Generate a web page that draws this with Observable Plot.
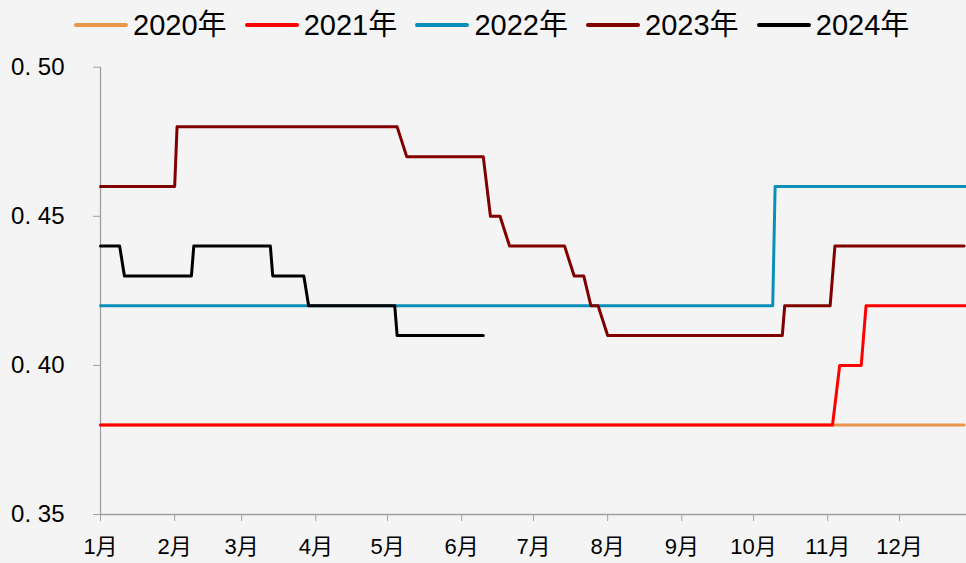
<!DOCTYPE html>
<html>
<head>
<meta charset="utf-8">
<script src="https://cdn.jsdelivr.net/npm/d3@7"></script>
<script src="https://cdn.jsdelivr.net/npm/@observablehq/plot@0.6"></script>
<style>
  html, body { margin: 0; padding: 0; background: #F4F4F4; }
  body { width: 966px; height: 563px; overflow: hidden; font-family: "Liberation Sans", Arial, "Noto Sans CJK SC", sans-serif; }
  #legend { position: relative; height: 50px; }
  .item { position: absolute; top: 0; height: 50px; display: flex; align-items: center; }
  .sw { width: 54px; height: 4px; border-radius: 2px; margin-right: 5px; }
  .lab { font-size: 29px; color: #000; line-height: 1; }
  svg { display: block; background: #F4F4F4; }
</style>
</head>
<body>
<div id="legend"></div>
<div id="chart"></div>
<script>
// ---- data (overlay on a reference calendar year) ----
const seriesNames = ["2020年", "2021年", "2022年", "2023年", "2024年"];
const seriesColors = ["#EA964A", "#FF0000", "#0A90B8", "#800000", "#000000"];

const dates2020 = ["01-01", "12-28"];
const vals2020  = [0.38, 0.38];

const dates2021 = ["01-01", "11-03", "11-06", "11-15", "11-17", "12-29"];
const vals2021  = [0.38, 0.38, 0.40, 0.40, 0.42, 0.42];

const dates2022 = ["01-01", "10-09", "10-10", "12-29"];
const vals2022  = [0.42, 0.42, 0.46, 0.46];

const dates2023 = ["01-01", "02-01", "02-02", "05-05", "05-09", "06-10", "06-13", "06-17", "06-21",
                   "07-14", "07-18", "07-22", "07-25", "07-28", "08-01", "10-13", "10-14", "11-02", "11-04", "12-28"];
const vals2023  = [0.46, 0.46, 0.48, 0.48, 0.47, 0.47, 0.45, 0.45, 0.44,
                   0.44, 0.43, 0.43, 0.42, 0.42, 0.41, 0.41, 0.42, 0.42, 0.44, 0.44];

const dates2024 = ["01-01", "01-09", "01-11", "02-08", "02-09", "03-13", "03-14", "03-27", "03-29", "05-04", "05-05", "06-10"];
const vals2024  = [0.44, 0.44, 0.43, 0.43, 0.44, 0.44, 0.43, 0.43, 0.42, 0.42, 0.41, 0.41];

const monthTicks  = ["01-01","02-01","03-01","04-01","05-01","06-01","07-01","08-01","09-01","10-01","11-01","12-01"];
const monthLabels = ["1月","2月","3月","4月","5月","6月","7月","8月","9月","10月","11月","12月"];
const yTicks = [0.35, 0.40, 0.45, 0.50];
const xStart = "01-01", xEnd = "12-29";

// ---- build ----
const ref = s => new Date(`2023-${s}T00:00:00Z`);
const allDates = [dates2020, dates2021, dates2022, dates2023, dates2024];
const allVals = [vals2020, vals2021, vals2022, vals2023, vals2024];
const rows = [];
seriesNames.forEach((name, i) => {
  allDates[i].forEach((d, j) => rows.push({series: name, date: ref(d), value: allVals[i][j]}));
});
const tickDates = monthTicks.map(ref);
const labelOf = new Map(tickDates.map((d, i) => [+d, monthLabels[i]]));

// legend
const legend = document.getElementById("legend");
seriesNames.forEach((name, i) => {
  const it = document.createElement("div");
  it.className = "item";
  it.style.left = (74 + i * 170.7) + "px";
  it.innerHTML = `<div class="sw" style="background:${seriesColors[i]}"></div><div class="lab">${name}</div>`;
  legend.appendChild(it);
});

const axisColor = "#A0A0A0";
const chart = Plot.plot({
  width: 966,
  height: 513,
  marginLeft: 100,
  marginRight: 0,
  marginTop: 16.7,
  marginBottom: 49,
  style: {background: "#F4F4F4", fontFamily: "'Liberation Sans', Arial, 'Noto Sans CJK SC', sans-serif", color: "#000"},
  x: {type: "utc", domain: [ref(xStart), ref(xEnd)]},
  y: {domain: [0.35, 0.50]},
  color: {domain: seriesNames, range: seriesColors},
  marks: [
    Plot.ruleX([ref(xStart)], {stroke: axisColor, strokeWidth: 1.3}),
    Plot.ruleY([0.35], {stroke: axisColor, strokeWidth: 1.3}),
    Plot.axisY({ticks: yTicks, tickSize: 7, tickPadding: 29, fontSize: 24, stroke: axisColor, fill: "#000",
      tickFormat: v => d3.format(".2f")(v).replace(".", ". "), label: null}),
    Plot.axisX({ticks: tickDates, tickSize: 7, tickPadding: 17, fontSize: 22, stroke: axisColor, fill: "#000",
      tickFormat: d => labelOf.get(+d), label: null}),
    Plot.line(rows, {x: "date", y: "value", z: "series", stroke: "series", strokeWidth: 3,
      strokeLinejoin: "round", strokeLinecap: "round"})
  ]
});
document.getElementById("chart").appendChild(chart);
</script>
</body>
</html>
